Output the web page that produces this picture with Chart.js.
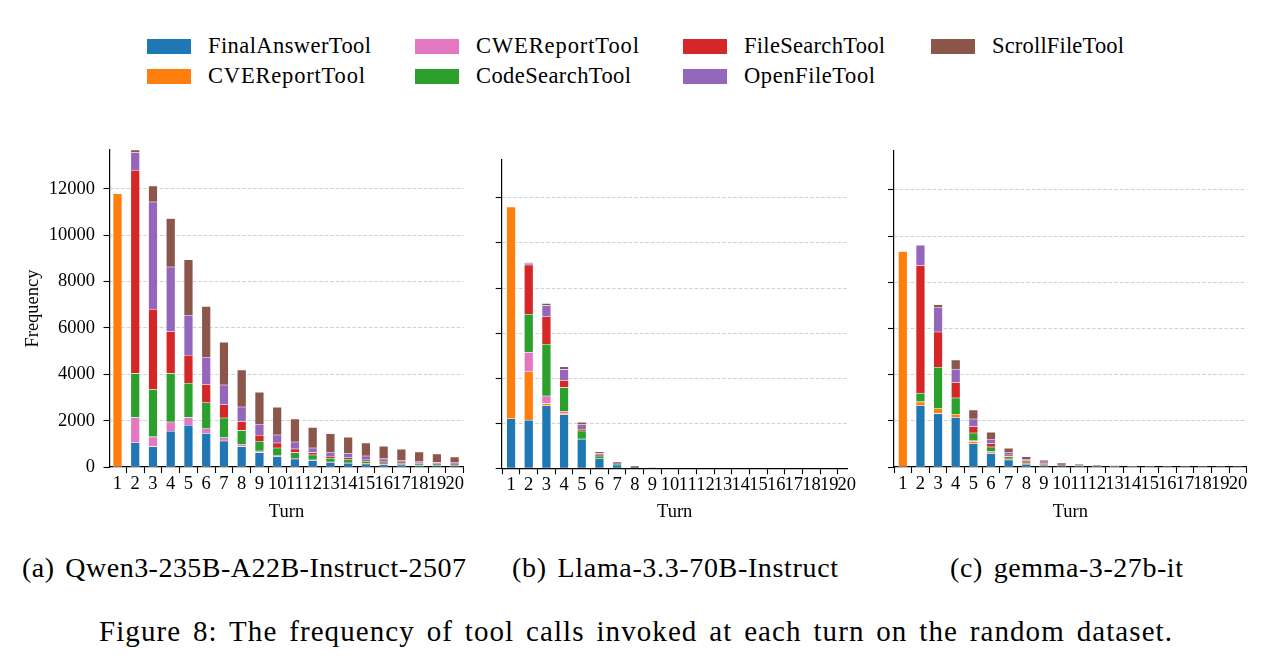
<!DOCTYPE html>
<html><head><meta charset="utf-8">
<script src="https://cdn.jsdelivr.net/npm/chart.js@4.4.1/dist/chart.umd.min.js"></script>
<style>
html,body{margin:0;padding:0;background:#fff;}
body{width:1273px;height:663px;position:relative;overflow:hidden;font-family:"Liberation Serif","Times New Roman",serif;color:#000;}
canvas{position:absolute;}
.txt{position:absolute;white-space:nowrap;line-height:1;}
.sw{position:absolute;width:44px;height:15px;}
</style></head><body>
<div id="legend"></div>
<canvas id="ca" width="472" height="395" style="left:0px;top:140px"></canvas>
<canvas id="cb" width="388" height="386" style="left:480px;top:150px"></canvas>
<canvas id="cc" width="403" height="394" style="left:870px;top:141px"></canvas>
<div id="captions"></div>
<script>
// ---------------- data ----------------
const turns = [1,2,3,4,5,6,7,8,9,10,11,12,13,14,15,16,17,18,19,20];
const toolNames = ['FinalAnswerTool','CVEReportTool','CWEReportTool','CodeSearchTool','FileSearchTool','OpenFileTool','ScrollFileTool'];
const yTicks = [0,2000,4000,6000,8000,10000,12000];
const yMax = 13680;

// (a) Qwen3-235B-A22B-Instruct-2507
const qwenFinalAnswer = [0,1050,880,1540,1800,1450,1120,880,620,445,345,275,185,160,130,100,85,70,55,45];
const qwenCVEReport   = [11790,0,0,0,0,0,0,0,0,0,0,0,0,0,0,0,0,0,0,0];
const qwenCWEReport   = [0,1080,420,400,330,200,145,100,70,45,30,30,30,15,15,15,15,15,10,10];
const qwenCodeSearch  = [0,1910,2040,2100,1480,1120,850,600,420,330,245,215,160,155,100,60,60,60,65,45];
const qwenFileSearch  = [0,8770,3470,1800,1210,790,575,375,260,215,160,100,85,70,55,45,55,30,15,30];
const qwenOpenFile    = [0,760,4630,2790,1730,1180,850,635,475,345,300,200,175,175,175,130,75,70,55,55];
const qwenScrollFile  = [0,110,690,2090,2400,2190,1840,1600,1380,1195,990,890,805,705,560,545,475,405,360,245];

// (b) Llama-3.3-70B-Instruct
const llamaFinalAnswer = [2200,2130,2780,2380,1285,420,150,30,3,0,0,0,0,0,0,0,0,0,0,0];
const llamaCVEReport   = [9400,2150,90,60,0,0,0,0,0,0,0,0,0,0,0,0,0,0,0,0];
const llamaCWEReport   = [0,860,340,90,15,0,0,0,0,0,0,0,0,0,0,0,0,0,0,0];
const llamaCodeSearch  = [0,1700,2290,1060,355,125,60,25,3,0,0,0,0,0,0,0,0,0,0,0];
const llamaFileSearch  = [0,2185,1225,310,75,40,15,10,0,0,0,0,0,0,0,0,0,0,0,0];
const llamaOpenFile    = [0,75,500,490,205,70,25,10,0,0,0,0,0,0,0,0,0,0,0,0];
const llamaScrollFile  = [0,20,90,120,105,80,30,15,4,0,0,0,0,0,0,0,0,0,0,0];

// (c) gemma-3-27b-it
const gemmaFinalAnswer = [0,2660,2310,2140,1010,590,300,120,75,45,20,15,8,5,3,2,2,1,1,1];
const gemmaCVEReport   = [9330,160,215,145,100,60,30,30,15,5,0,0,0,0,0,0,0,0,0,0];
const gemmaCWEReport   = [0,0,0,0,30,20,20,10,15,5,0,0,0,0,0,0,0,0,0,0];
const gemmaCodeSearch  = [0,375,1790,705,330,200,100,60,45,30,15,10,8,4,2,1,1,1,1,0];
const gemmaFileSearch  = [0,5530,1530,665,275,145,70,45,30,15,10,5,0,0,0,0,0,0,0,0];
const gemmaOpenFile    = [0,880,1070,580,330,185,115,70,40,30,20,12,10,5,2,1,1,1,0,0];
const gemmaScrollFile  = [0,0,115,400,390,300,175,115,75,60,50,45,32,15,10,6,4,3,3,2];

const captionTexts = ['(a) Qwen3-235B-A22B-Instruct-2507','(b) Llama-3.3-70B-Instruct','(c) gemma-3-27b-it'];
const figureCaption = 'Figure 8: The frequency of tool calls invoked at each turn on the random dataset.';

// ---------------- styles ----------------
const toolColors = ['#1f77b4','#ff7f0e','#e377c2','#2ca02c','#d62728','#9467bd','#8c564b'];
const FONT = '"Liberation Serif","Times New Roman",serif';
Chart.defaults.font.family = FONT;
Chart.defaults.color = '#000';

function makeChart(id, series, cfg) {
  return new Chart(document.getElementById(id), {
    type: 'bar',
    data: {
      datasets: series.map((vals, i) => ({
        label: toolNames[i],
        data: turns.map((t, j) => ({x: t, y: vals[j]})),
        backgroundColor: toolColors[i],
        borderColor: 'rgba(255,255,255,0.45)',
        borderWidth: 0.6,
        borderSkipped: false,
        barThickness: 8.8
      }))
    },
    options: {
      responsive: false,
      animation: false,
      layout: {padding: {top: 10, right: cfg.padRight, left: 0, bottom: 0}},
      plugins: {legend: {display: false}, tooltip: {enabled: false}},
      scales: {
        x: {
          type: 'linear', stacked: true, bounds: 'data', offset: false,
          min: cfg.xMin, max: cfg.xMax,
          afterBuildTicks: s => { s.ticks = turns.map(v => ({value: v})); },
          afterFit: s => { s.height = cfg.xAxisH; s.paddingLeft = 0; s.paddingRight = 0; },
          grid: {display: true, drawOnChartArea: false, drawTicks: true, tickLength: 6, tickColor: '#000', tickWidth: 1.1},
          border: {display: true, color: '#000', width: 1.2},
          ticks: {autoSkip: false, maxRotation: 0, minRotation: 0, padding: 0, font: {size: 18.5}, color: '#000', callback: v => String(v)},
          title: {display: true, text: 'Turn', font: {size: 18.5}, color: '#000', padding: {top: 0, bottom: cfg.titlePad}}
        },
        y: {
          type: 'linear', stacked: true, bounds: 'data',
          min: 0, max: yMax,
          afterBuildTicks: s => { s.ticks = yTicks.map(v => ({value: v})); },
          afterFit: s => { s.width = cfg.yAxisW; s.paddingTop = 0; s.paddingBottom = 0; },
          grid: {
            display: true, drawOnChartArea: true, drawTicks: true, tickLength: 6,
            tickColor: '#000', tickWidth: 1.1, tickBorderDash: [],
            color: c => (c.tick && c.tick.value === 0) ? 'rgba(0,0,0,0)' : 'rgba(170,170,170,0.7)',
            lineWidth: 0.8
          },
          border: {display: true, color: '#000', width: 1.2, dash: [3.5, 2]},
          ticks: {display: cfg.showY, padding: 8.5, font: {size: 18.5}, color: '#000', callback: v => String(v)},
          title: {display: cfg.showY, text: 'Frequency', font: {size: 18.5}, color: '#000', padding: {top: 22, bottom: 0}}
        }
      }
    }
  });
}

makeChart('ca', [qwenFinalAnswer, qwenCVEReport, qwenCWEReport, qwenCodeSearch, qwenFileSearch, qwenOpenFile, qwenScrollFile],
  {xMin: 0.55, xMax: 20.5, padRight: 8.5, yAxisW: 109.5, xAxisH: 68, titlePad: 12, showY: true});
makeChart('cb', [llamaFinalAnswer, llamaCVEReport, llamaCWEReport, llamaCodeSearch, llamaFileSearch, llamaOpenFile, llamaScrollFile],
  {xMin: 0.47, xMax: 20.05, padRight: 20.3, yAxisW: 21.7, xAxisH: 67.7, titlePad: 12.5, showY: false});
makeChart('cc', [gemmaFinalAnswer, gemmaCVEReport, gemmaCWEReport, gemmaCodeSearch, gemmaFileSearch, gemmaOpenFile, gemmaScrollFile],
  {xMin: 0.5, xMax: 20.5, padRight: 26.3, yAxisW: 24, xAxisH: 68, titlePad: 12, showY: false});

// ---------------- legend & captions (HTML text) ----------------
function placeText(parent, text, left, baseline, size, targetW) {
  const d = document.createElement('div');
  d.className = 'txt';
  d.textContent = text;
  d.style.fontSize = size + 'px';
  d.style.left = left + 'px';
  d.style.top = (baseline - 0.8375 * size) + 'px';
  parent.appendChild(d);
  if (targetW) {
    const w0 = d.getBoundingClientRect().width;
    const n = text.length;
    const spaces = (text.match(/ /g) || []).length;
    const extra = targetW - w0;
    // share extra width between word spacing and letter spacing
    const ws = spaces ? Math.max(0, Math.min(extra * 0.4 / spaces, size * 0.12)) : 0;
    d.style.wordSpacing = ws + 'px';
    d.style.letterSpacing = ((extra - ws * spaces) / Math.max(1, n - 1)) + 'px';
  }
  return d;
}
const legendEl = document.getElementById('legend');
const legCols = [147, 415, 683, 931];
const legRows = [46, 76];
const legW = [163, 157, 163, 155, 141, 131, 132];
toolNames.forEach((name, i) => {
  const col = Math.floor(i / 2), row = i % 2;
  const sw = document.createElement('div');
  sw.className = 'sw';
  sw.style.background = toolColors[i];
  sw.style.left = legCols[col] + 'px';
  sw.style.top = (legRows[row] - 7.5) + 'px';
  legendEl.appendChild(sw);
  placeText(legendEl, name, legCols[col] + 61, legRows[row] + 7.5, 22.5, legW[i]);
});
const capEl = document.getElementById('captions');
const capLeft = [22, 512, 950], capW = [444, 326, 233];
captionTexts.forEach((t, i) => placeText(capEl, t, capLeft[i], 577.5, 28, capW[i]));
placeText(capEl, figureCaption, 99, 641.5, 29, 1073);
</script>
</body></html>
